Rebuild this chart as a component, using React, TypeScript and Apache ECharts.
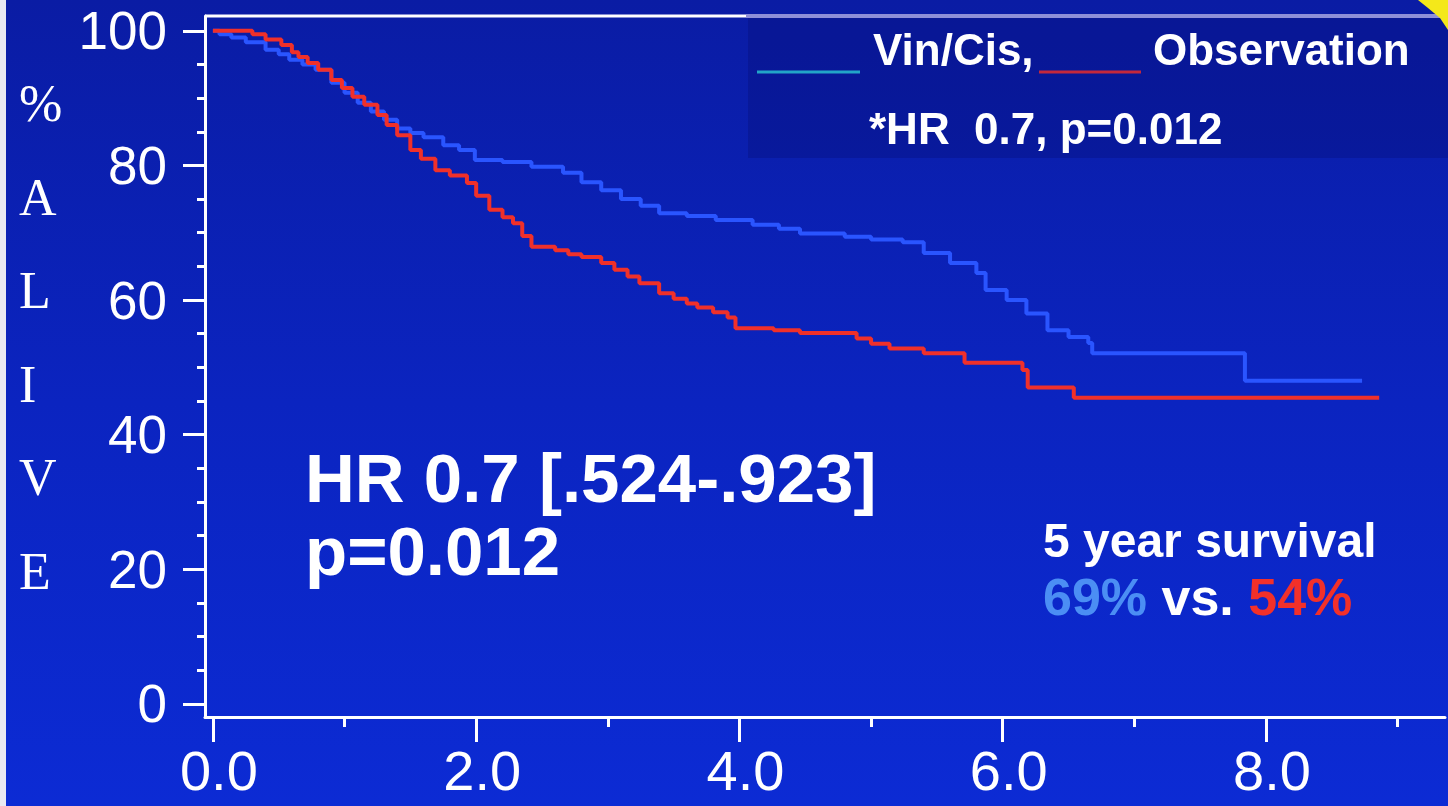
import React, { useEffect, useRef } from "react";
import * as echarts from "echarts";

// ---- Data ----
const vinCisTimes = [0, 0.05, 0.14, 0.25, 0.4, 0.5, 0.58, 0.68, 0.78, 0.9, 1.0, 1.1, 1.2, 1.3, 1.4, 1.5, 1.6, 1.75, 1.87, 1.99, 2.2, 2.42, 2.66, 2.8, 2.95, 3.1, 3.25, 3.39, 3.6, 3.82, 4.1, 4.3, 4.46, 4.8, 5.0, 5.24, 5.4, 5.6, 5.8, 5.87, 6.03, 6.18, 6.34, 6.5, 6.65, 6.68, 7.84, 8.73];
const vinCisSurvival = [100, 99.5, 99, 98.3, 97.2, 96.5, 95.7, 95, 94.2, 92.3, 90.8, 89.3, 88, 86.8, 85.5, 84.8, 84.2, 83, 82.3, 80.8, 80.5, 79.8, 78.9, 77.5, 76.3, 75, 74, 72.9, 72.5, 71.9, 71.2, 70.6, 69.9, 69.4, 69, 68.6, 67, 65.5, 64, 61.5, 60, 58, 55.5, 54.5, 53.6, 52.1, 48.0, 48.0];

const obsTimes = [0, 0.25, 0.3, 0.4, 0.52, 0.6, 0.65, 0.72, 0.8, 0.9, 0.98, 1.06, 1.15, 1.25, 1.32, 1.4, 1.5, 1.58, 1.69, 1.8, 1.93, 2.0, 2.1, 2.2, 2.28, 2.35, 2.42, 2.6, 2.7, 2.8, 2.95, 3.05, 3.15, 3.24, 3.39, 3.5, 3.6, 3.68, 3.8, 3.91, 3.97, 4.26, 4.46, 4.89, 5.0, 5.14, 5.4, 5.71, 6.15, 6.19, 6.54, 8.86];
const obsSurvival = [100, 100, 99.5, 98.7, 97.9, 96.8, 96.1, 95.2, 94.2, 92.7, 91.5, 90.2, 89, 87.5, 86, 84.5, 82.3, 81, 79.3, 78.5, 77.4, 75.5, 73.4, 72.3, 71.4, 69.5, 67.9, 67.4, 66.8, 66.4, 65.5, 64.5, 63.5, 62.5, 61, 60.2, 59.5, 58.9, 58.2, 57.4, 55.8, 55.5, 55.1, 54.3, 53.5, 52.8, 52.1, 50.7, 49.6, 47.0, 45.5, 45.5];

const xTickValues = [0, 2, 4, 6, 8];
const xMinorTickValues = [1, 3, 5, 7, 9];
const yTickValues = [0, 20, 40, 60, 80, 100];
const yMinorTickValues = [5, 10, 15, 25, 30, 35, 45, 50, 55, 65, 70, 75, 85, 90, 95];
const yTitleLetters = ["%", "A", "L", "I", "V", "E"];
const seriesNames = ["Vin/Cis,", "Observation"];
const hrNote = "*HR  0.7, p=0.012";
const hrText = ["HR 0.7 [.524-.923]", "p=0.012"];
const fiveYearTitle = "5 year survival";
const fiveYearValues = ["69%", "54%"];

const SANS = "'Liberation Sans', Arial, Helvetica, sans-serif";
const SERIF = "'Liberation Serif', 'Times New Roman', serif";

export default function App() {
  const ref = useRef<HTMLDivElement>(null);

  useEffect(() => {
    if (!ref.current) return;
    const chart = echarts.init(ref.current, undefined, { renderer: "svg" });

    const yMin = -1.95;
    const yMax = 102.2;
    const xMin = -0.06;
    const xMax = 9.36;

    const commonY = {
      type: "value",
      min: yMin,
      max: yMax,
      position: "left",
      splitLine: { show: false },
    };
    const commonX = {
      type: "value",
      min: xMin,
      max: xMax,
      position: "bottom",
      splitLine: { show: false },
    };

    const option: any = {
      animation: false,
      backgroundColor: "transparent",
      grid: { left: 205, right: 3, top: 16, bottom: 89, containLabel: false },
      xAxis: [
        {
          ...commonX,
          axisLine: { show: true, onZero: false, lineStyle: { color: "#ffffff", width: 3 } },
          axisTick: { show: true, customValues: xTickValues, length: 25, lineStyle: { color: "#ffffff", width: 3 } },
          axisLabel: {
            show: true,
            customValues: xTickValues,
            formatter: (v: number) => v.toFixed(1),
            color: "#ffffff",
            fontSize: 56,
            fontFamily: SANS,
            margin: 25,
            padding: [0, 0, 0, 12],
          },
        },
        {
          ...commonX,
          axisLine: { show: false, onZero: false },
          axisTick: { show: true, customValues: xMinorTickValues, length: 10, lineStyle: { color: "#ffffff", width: 3 } },
          axisLabel: { show: false },
        },
      ],
      yAxis: [
        {
          ...commonY,
          axisLine: { show: true, onZero: false, lineStyle: { color: "#ffffff", width: 3 } },
          axisTick: { show: true, customValues: yTickValues, length: 22, lineStyle: { color: "#ffffff", width: 3 } },
          axisLabel: {
            show: true,
            customValues: yTickValues,
            color: "#ffffff",
            fontSize: 53,
            fontFamily: SANS,
            margin: 38,
          },
        },
        {
          ...commonY,
          axisLine: { show: false, onZero: false },
          axisTick: { show: true, customValues: yMinorTickValues, length: 8, lineStyle: { color: "#ffffff", width: 3 } },
          axisLabel: { show: false },
        },
      ],
      series: [
        {
          name: seriesNames[0],
          type: "line",
          step: "end",
          xAxisIndex: 0,
          yAxisIndex: 0,
          symbol: "none",
          data: vinCisTimes.map((t, i) => [t, vinCisSurvival[i]]),
          lineStyle: { color: "#2a55ff", width: 4 },
          z: 3,
        },
        {
          name: seriesNames[1],
          type: "line",
          step: "end",
          xAxisIndex: 0,
          yAxisIndex: 0,
          symbol: "none",
          data: obsTimes.map((t, i) => [t, obsSurvival[i]]),
          lineStyle: { color: "#f0302a", width: 4 },
          z: 4,
        },
      ],
      graphic: [
        {
          type: "rect",
          z: -100,
          silent: true,
          shape: { x: 0, y: 0, width: 1448, height: 806 },
          style: {
            fill: new echarts.graphic.LinearGradient(0, 0, 0, 1, [
              { offset: 0, color: "#0a1ca4" },
              { offset: 0.5, color: "#0b24c0" },
              { offset: 1, color: "#0c2bd4" },
            ]),
          },
        },
        {
          type: "rect",
          z: -99,
          silent: true,
          shape: { x: 0, y: 0, width: 6, height: 806 },
          style: { fill: "#e9e9f2" },
        },
        // legend box
        {
          type: "rect",
          z: -98,
          silent: true,
          shape: { x: 748, y: 16, width: 700, height: 142 },
          style: { fill: "rgba(6, 14, 120, 0.35)" },
        },
        {
          type: "line",
          z: 10,
          shape: { x1: 205, y1: 16, x2: 746, y2: 16 },
          style: { stroke: "#ffffff", lineWidth: 3 },
        },
        {
          type: "line",
          z: 10,
          shape: { x1: 746, y1: 16, x2: 1448, y2: 16 },
          style: { stroke: "#8e8fd8", lineWidth: 4 },
        },
        {
          type: "polygon",
          z: 11,
          shape: { points: [[1418, 0], [1448, 0], [1448, 30], [1440, 18], [1428, 8]] },
          style: { fill: "#f4e81a" },
        },
        // legend entries
        {
          type: "line",
          z: 10,
          shape: { x1: 757, y1: 72, x2: 860, y2: 72 },
          style: { stroke: "#22a4c8", lineWidth: 3 },
        },
        {
          type: "text",
          z: 10,
          x: 873,
          y: 49,
          style: { text: seriesNames[0], fill: "#ffffff", font: `bold 44px ${SANS}`, verticalAlign: "middle", align: "left" },
        },
        {
          type: "line",
          z: 10,
          shape: { x1: 1039, y1: 72, x2: 1141, y2: 72 },
          style: { stroke: "#c4283c", lineWidth: 3 },
        },
        {
          type: "text",
          z: 10,
          x: 1153,
          y: 49,
          style: { text: seriesNames[1], fill: "#ffffff", font: `bold 44px ${SANS}`, verticalAlign: "middle", align: "left" },
        },
        {
          type: "text",
          z: 10,
          x: 869,
          y: 128,
          style: { text: hrNote, fill: "#ffffff", font: `bold 44px ${SANS}`, verticalAlign: "middle", align: "left" },
        },
        // vertical axis title
        {
          type: "text",
          z: 10,
          x: 19,
          y: 57,
          style: {
            text: yTitleLetters.join("\n"),
            fill: "#ffffff",
            font: `52px ${SERIF}`,
            lineHeight: 93.5,
            verticalAlign: "top",
            align: "left",
          },
        },
        // HR annotation
        {
          type: "text",
          z: 10,
          x: 305,
          y: 442,
          style: {
            text: hrText.join("\n"),
            fill: "#ffffff",
            font: `bold 69px ${SANS}`,
            lineHeight: 73,
            verticalAlign: "top",
            align: "left",
          },
        },
        // 5 year survival
        {
          type: "text",
          z: 10,
          x: 1043,
          y: 540,
          style: { text: fiveYearTitle, fill: "#ffffff", font: `bold 48px ${SANS}`, verticalAlign: "middle", align: "left" },
        },
        {
          type: "text",
          z: 10,
          x: 1043,
          y: 597,
          style: {
            text: `{b|${fiveYearValues[0]}} {w|vs.} {r|${fiveYearValues[1]}}`,
            fill: "#ffffff",
            font: `bold 52px ${SANS}`,
            verticalAlign: "middle",
            align: "left",
            rich: {
              b: { fill: "#4b8ef4", fontSize: 52, fontWeight: "bold", fontFamily: SANS },
              w: { fill: "#ffffff", fontSize: 52, fontWeight: "bold", fontFamily: SANS },
              r: { fill: "#f2302a", fontSize: 52, fontWeight: "bold", fontFamily: SANS },
            },
          },
        },
      ],
    };

    chart.setOption(option);
    return () => chart.dispose();
  }, []);

  return (
    <div
      ref={ref}
      style={{ position: "fixed", left: 0, top: 0, width: 1448, height: 806 }}
    />
  );
}
